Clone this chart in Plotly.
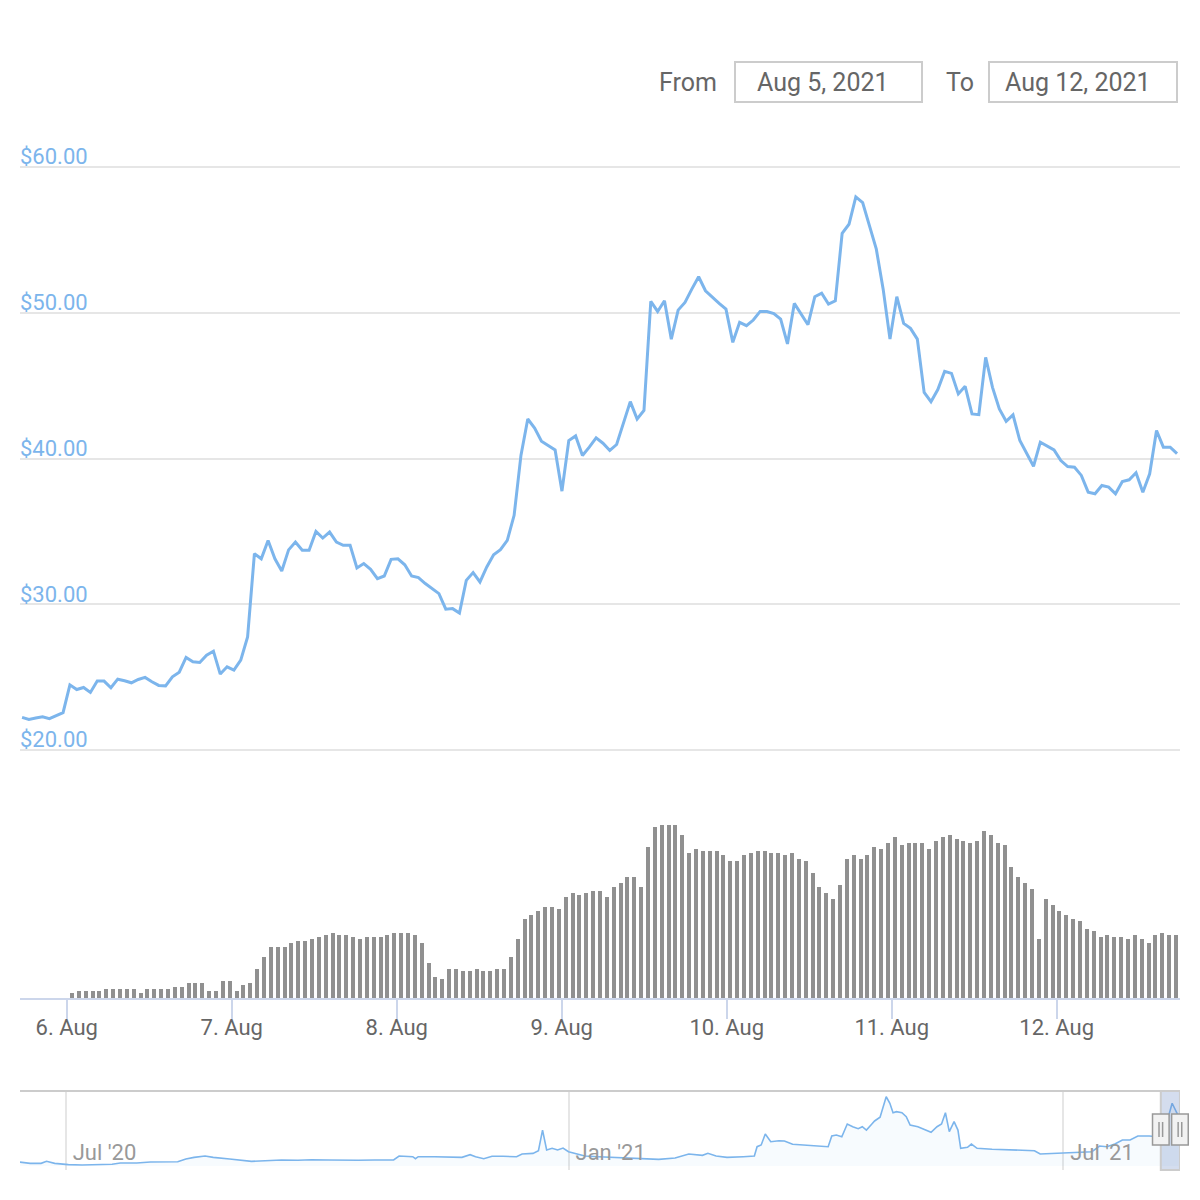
import pandas as pd
import plotly.graph_objects as go

# ---------------- data ----------------
price_start = "2021-08-05 17:30"
price_end = "2021-08-12 17:30"
price_values = [
    22.24, 22.10, 22.20, 22.28, 22.15, 22.35, 22.56, 24.47, 24.15, 24.29,
    23.95, 24.73, 24.73, 24.27, 24.86, 24.75, 24.61, 24.84, 24.98, 24.68,
    24.43, 24.40, 25.02, 25.34, 26.35, 26.05, 26.00, 26.51, 26.78, 25.21,
    25.71, 25.48, 26.16, 27.76, 33.47, 33.12, 34.38, 33.12, 32.28, 33.73,
    34.27, 33.70, 33.70, 35.00, 34.54, 34.95, 34.27, 34.04, 34.04, 32.49,
    32.79, 32.40, 31.76, 31.94, 33.08, 33.12, 32.71, 31.94, 31.83, 31.42,
    31.07, 30.73, 29.66, 29.70, 29.40, 31.64, 32.17, 31.53, 32.56, 33.40,
    33.74, 34.38, 36.10, 40.21, 42.71, 42.09, 41.18, 40.89, 40.59, 37.76,
    41.23, 41.55, 40.21, 40.78, 41.42, 41.05, 40.55, 40.96, 42.47, 43.90,
    42.71, 43.29, 50.78, 50.09, 50.82, 48.19, 50.18, 50.71, 51.62, 52.47,
    51.51, 51.05, 50.64, 50.25, 47.97, 49.34, 49.11, 49.50, 50.09, 50.09,
    49.95, 49.56, 47.86, 50.64, 49.86, 49.18, 51.10, 51.34, 50.59, 50.82,
    55.45, 56.07, 57.95, 57.56, 55.96, 54.36, 51.62, 48.19, 51.10, 49.27,
    48.93, 48.19, 44.54, 43.90, 44.73, 45.98, 45.84, 44.43, 44.95, 43.06,
    43.01, 46.94, 44.88, 43.40, 42.55, 42.99, 41.23, 40.36, 39.47, 41.12,
    40.84, 40.59, 39.86, 39.45, 39.40, 38.84, 37.69, 37.58, 38.15, 38.04,
    37.58, 38.42, 38.54, 39.02, 37.69, 38.95, 41.92, 40.78, 40.78, 40.33,
]

volume_start = "2021-08-06 00:46"
volume_end = "2021-08-12 17:21"
volume_values = [
    4.7, 6.7, 6.7, 6.7, 6.7, 8.7, 8.7, 8.7, 8.7, 8.7, 4.7, 8.7, 8.7, 8.7, 8.7,
    10.7, 10.7, 14.7, 14.7, 14.7, 6.7, 6.7, 16.7, 16.7, 6.7, 12.7, 14.7, 28.7,
    40.7, 50.7, 50.7, 50.7, 54.7, 56.7, 56.7, 58.7, 60.7, 62.7, 64.7, 62.7,
    62.7, 60.7, 58.7, 60.7, 60.7, 60.7, 62.7, 64.7, 64.7,
    64.7, 62.7, 54.7, 34.7, 20.7, 18.7, 28.7, 28.7, 26.7, 26.7, 28.7, 26.7,
    26.7, 28.7, 28.7, 40.7, 58.7, 78.7, 82.7, 86.7, 90.7, 90.7, 88.7,
    100.7, 104.7, 102.7, 104.7, 106.7, 106.7, 100.7, 110.7, 114.7, 120.7,
    120.7, 110.7, 150.7, 170.7, 172.7, 172.7, 172.7, 162.7, 144.7, 148.7,
    146.7, 146.7, 146.7, 142.7,
    136.7, 136.7, 142.7, 144.7, 146.7, 146.7, 144.7, 144.7, 142.7, 144.7,
    138.7, 136.7, 124.7, 110.7, 104.7, 98.7, 112.7, 138.7, 142.7, 138.7,
    142.7, 150.7, 148.7, 154.7,
    160.7, 152.7, 154.7, 154.7, 154.7, 148.7, 156.7, 160.7, 162.7, 158.7,
    156.7, 154.7, 156.7, 166.7, 162.7, 154.7, 152.7, 130.7, 120.7, 114.7,
    108.7, 58.7, 98.7, 92.7,
    86.7, 82.7, 78.7, 76.7, 68.7, 66.7, 60.7, 62.7, 60.7, 60.7, 58.7, 62.7,
    58.7, 54.7, 62.7, 64.7, 62.7, 62.7,
]

nav_dates = [
    "2020-06-13", "2020-06-18", "2020-06-22", "2020-06-24", "2020-06-27",
    "2020-07-02", "2020-07-07", "2020-07-13", "2020-07-18", "2020-07-21",
    "2020-07-27", "2020-08-01", "2020-08-07", "2020-08-11", "2020-08-14",
    "2020-08-17", "2020-08-21", "2020-08-24", "2020-08-30", "2020-09-04",
    "2020-09-07", "2020-09-12", "2020-09-18", "2020-09-24", "2020-09-29",
    "2020-10-05", "2020-10-10", "2020-10-16", "2020-10-22", "2020-10-27",
    "2020-10-29", "2020-10-31", "2020-11-05", "2020-11-06", "2020-11-07",
    "2020-11-13", "2020-11-19", "2020-11-23", "2020-11-26", "2020-11-28",
    "2020-12-01", "2020-12-04", "2020-12-08", "2020-12-13", "2020-12-15",
    "2020-12-19", "2020-12-21", "2020-12-22 12:00", "2020-12-24", "2020-12-26",
    "2020-12-28", "2020-12-30", "2021-01-01", "2021-01-04", "2021-01-07",
    "2021-01-12", "2021-01-17", "2021-01-23", "2021-01-28", "2021-02-03",
    "2021-02-09", "2021-02-14", "2021-02-19", "2021-02-21", "2021-02-24",
    "2021-02-28", "2021-03-06", "2021-03-10", "2021-03-11", "2021-03-12 12:00",
    "2021-03-14", "2021-03-16", "2021-03-19", "2021-03-21", "2021-03-24",
    "2021-03-29", "2021-04-02", "2021-04-06", "2021-04-07 08:00", "2021-04-09",
    "2021-04-11", "2021-04-13", "2021-04-15", "2021-04-17", "2021-04-18 12:00",
    "2021-04-20", "2021-04-22", "2021-04-23", "2021-04-25", "2021-04-26 06:00",
    "2021-04-27 06:00", "2021-04-28 14:00", "2021-04-29 18:00", "2021-05-01",
    "2021-05-03", "2021-05-04 14:00", "2021-05-06", "2021-05-08 20:00",
    "2021-05-11 14:00", "2021-05-13 16:00", "2021-05-15 20:00",
    "2021-05-17 12:00", "2021-05-18 22:00", "2021-05-20 08:00",
    "2021-05-22 02:00", "2021-05-23 12:00", "2021-05-24 12:00", "2021-05-27",
    "2021-05-28 10:00", "2021-05-30 12:00", "2021-06-05", "2021-06-10 16:00",
    "2021-06-16 08:00", "2021-06-20 12:00", "2021-06-22 14:00",
    "2021-06-28 22:00", "2021-07-05 22:00", "2021-07-11 12:00",
    "2021-07-14 08:00", "2021-07-17", "2021-07-19 22:00", "2021-07-22 16:00",
    "2021-07-25 12:00", "2021-07-28 08:00", "2021-08-01 12:00",
    "2021-08-04 08:00", "2021-08-06 09:00", "2021-08-08 12:00",
    "2021-08-09 21:00", "2021-08-12 06:00",
]
nav_values = [
    3.2, 2.0, 2.0, 3.5, 2.0,
    1.0, 0.75, 1.0, 1.3, 2.25,
    2.25, 3.0, 2.8, 3.2, 5.3,
    6.5, 7.5, 6.5, 5.3, 4.5,
    3.5, 4.0, 4.5, 4.3, 4.7,
    4.5, 4.3, 4.3, 4.5, 4.5,
    4.5, 7.5, 7.0, 5.5, 7.0,
    7.0, 7.0, 6.5, 8.5, 7.0,
    5.5, 7.3, 7.3, 7.0, 9.0,
    9.5, 11.5, 27.0, 12.0, 13.3,
    12.0, 13.5, 10.7, 9.0, 7.5,
    7.0, 6.5, 6.0, 5.5, 5.0,
    6.0, 9.0, 8.0, 9.5, 7.5,
    6.5, 7.0, 7.5, 14.5, 15.8,
    24.0, 18.2, 19.0, 18.8, 16.3,
    15.5, 15.2, 14.5, 22.5, 23.3,
    22.0, 31.5, 29.5, 28.0, 29.5,
    27.0, 31.5, 33.8, 36.6, 45.0,
    52.0, 47.1, 40.0, 40.8,
    40.0, 37.0, 30.8, 29.5,
    27.0, 25.3, 29.5,
    31.5, 40.0, 25.8,
    33.3, 27.0, 13.3, 14.0,
    16.5, 13.3, 12.6, 12.0,
    11.5, 11.5, 9.0,
    9.5, 10.5, 10.7,
    15.0, 14.5, 16.5, 19.5,
    19.5, 22.5, 22.5,
    22.0, 29.5, 37.0,
    47.1, 37.0,
]

price_ticks = [20, 30, 40, 50, 60]
from_label = "Aug 5, 2021"
to_label = "Aug 12, 2021"

# ---------------- derived ----------------
price_times = pd.date_range(price_start, price_end, periods=len(price_values))
volume_times = pd.date_range(volume_start, volume_end, periods=len(volume_values))
nav_times = pd.to_datetime(nav_dates, format="mixed")
n = min(len(nav_times), len(nav_values))
nav_times = nav_times[:n]
nav_values = nav_values[:n]

main_range = ["2021-08-05 17:12", "2021-08-12 17:56"]
nav_range = ["2020-06-14 07:00", "2021-08-12 18:00"]

FONT = "Roboto, 'Open Sans', Arial, sans-serif"
BLUE = "#7cb5ec"
W = H = 1200


def py(px):
    return 1 - px / H


def pxx(px):
    return px / W


fig = go.Figure()

fig.add_trace(go.Scatter(
    x=price_times, y=price_values, mode="lines",
    line=dict(color=BLUE, width=3), xaxis="x", yaxis="y",
    hoverinfo="skip", showlegend=False,
))

fig.add_trace(go.Bar(
    x=volume_times, y=volume_values, marker=dict(color="#909090", line=dict(width=0)),
    width=0.58 * 3600000, xaxis="x2", yaxis="y2",
    hoverinfo="skip", showlegend=False,
))

fig.add_trace(go.Scatter(
    x=nav_times, y=nav_values, mode="lines",
    line=dict(color=BLUE, width=1.6), fill="tozeroy",
    fillcolor="rgba(124,181,236,0.06)", xaxis="x3", yaxis="y3",
    hoverinfo="skip", showlegend=False,
))

xdom = [pxx(20), pxx(1180)]

# price axis: $20 at y=750, $60 at y=167
ppd = (750 - 167) / 40.0
p_lo = 20 - (768 - 750) / ppd
p_hi = 60 + (167 - 120) / ppd

fig.update_layout(
    width=W, height=H,
    margin=dict(l=0, r=0, t=0, b=0),
    paper_bgcolor="white", plot_bgcolor="white",
    font=dict(family=FONT),
    bargap=0,
    xaxis=dict(domain=xdom, anchor="y", range=main_range, type="date",
               showgrid=False, showticklabels=False, zeroline=False,
               showline=False, ticks=""),
    yaxis=dict(domain=[py(768), py(120)], anchor="x", range=[p_lo, p_hi],
               tickvals=price_ticks, tickformat="$.2f",
               ticklabelposition="inside top",
               ticklabelshift=5, ticklabelstandoff=-3,
               tickfont=dict(color=BLUE, size=22, family=FONT),
               showgrid=True, gridcolor="#e6e6e6", gridwidth=2,
               zeroline=False, showline=False, ticks=""),
    xaxis2=dict(domain=xdom, anchor="y2", range=main_range, type="date",
                tick0="2021-08-06", dtick=86400000, tickformat="%-d. %b",
                ticks="outside", ticklen=19, tickwidth=2, tickcolor="#ccd6eb",
                ticklabelstandoff=-10,
                showline=True, linecolor="#ccd6eb", linewidth=2,
                showgrid=False, zeroline=False,
                tickfont=dict(color="#666666", size=22, family=FONT)),
    yaxis2=dict(domain=[py(998), py(790)], anchor="x2", range=[0, 208],
                visible=False, showgrid=False, zeroline=False),
    xaxis3=dict(domain=xdom, anchor="y3", range=nav_range, type="date",
                tick0="2020-07-01", dtick="M6", tickformat="%b '%y",
                ticklabelposition="inside right", ticks="",
                ticklabelshift=7,
                showgrid=True, gridcolor="#e6e6e6", gridwidth=2,
                showline=False, zeroline=False,
                tickfont=dict(color="#999999", size=22, family=FONT)),
    yaxis3=dict(domain=[py(1170), py(1090)], anchor="x3",
                range=[-3.0, 57.06], visible=False, showgrid=False,
                zeroline=False),
)

# map navigator times to paper x (for handles, which must not be clipped)
r0 = pd.Timestamp(nav_range[0])
r1 = pd.Timestamp(nav_range[1])


def nav_paper(t):
    frac = (pd.Timestamp(t) - r0) / (r1 - r0)
    return xdom[0] + frac * (xdom[1] - xdom[0])


shapes = []
shapes.append(dict(type="line", xref="x3 domain", yref="paper",
                   x0=0, x1=1, y0=py(1091), y1=py(1091),
                   line=dict(color="#cccccc", width=2)))
shapes.append(dict(type="rect", xref="x3", yref="paper",
                   x0=price_times[0], x1=price_times[-1],
                   y0=py(1170), y1=py(1091),
                   fillcolor="rgba(102,133,194,0.28)",
                   line=dict(color="#cccccc", width=2), layer="above"))
for t in (price_times[0], price_times[-1]):
    xa = nav_paper(t)
    shapes.append(dict(type="rect", xref="paper", xsizemode="pixel", xanchor=xa,
                       x0=-8.3, x1=8.3, yref="paper", y0=py(1145), y1=py(1114),
                       fillcolor="#f2f2f2", line=dict(color="#999999", width=1.5),
                       layer="above"))
    for dx in (-1.8, 1.8):
        shapes.append(dict(type="line", xref="paper", xsizemode="pixel", xanchor=xa,
                           x0=dx, x1=dx, yref="paper", y0=py(1137), y1=py(1122),
                           line=dict(color="#999999", width=1.5), layer="above"))
for (a, b) in ((735, 922), (989, 1177)):
    shapes.append(dict(type="rect", xref="paper", yref="paper",
                       x0=pxx(a), x1=pxx(b), y0=py(102), y1=py(62),
                       fillcolor="white", line=dict(color="#cccccc", width=2)))

annotations = [
    dict(text="From", x=pxx(719), y=py(82), xanchor="right", yanchor="middle",
         font=dict(size=25, color="#666666", family=FONT)),
    dict(text=from_label, x=pxx(823), y=py(82), xanchor="center", yanchor="middle",
         font=dict(size=25, color="#666666", family=FONT)),
    dict(text="To", x=pxx(976), y=py(82), xanchor="right", yanchor="middle",
         font=dict(size=25, color="#666666", family=FONT)),
    dict(text=to_label, x=pxx(1078), y=py(82), xanchor="center", yanchor="middle",
         font=dict(size=25, color="#666666", family=FONT)),
]
for a in annotations:
    a.update(xref="paper", yref="paper", showarrow=False)

fig.update_layout(shapes=shapes, annotations=annotations)

fig.write_html(
    "out.html",
    config={"displayModeBar": False},
    post_script="document.body.style.margin='0px';document.body.style.padding='0px';",
)
